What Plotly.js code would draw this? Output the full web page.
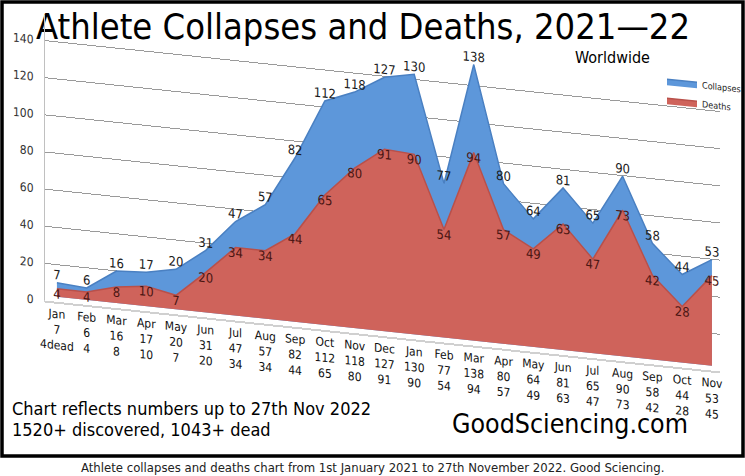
<!DOCTYPE html>
<html>
<head>
<meta charset="utf-8">
<script src="https://cdn.plot.ly/plotly-3.0.1.min.js"></script>
<style>
  html, body { margin: 0; padding: 0; background: #fff; }
  #wrap { position: relative; width: 745px; height: 476px; overflow: hidden; }
  #back { position: absolute; left: 0; top: 0; width: 745px; height: 476px; }
  #chart { position: absolute; left: 0; top: 0; width: 745px; height: 440px;
           transform: skewY(6deg); transform-origin: 40px 0; }
</style>
</head>
<body>
<div id="wrap">
  <div id="back"></div>
  <div id="chart"></div>
</div>
<script>
const months = ['Jan','Feb','Mar','Apr','May','Jun','Jul','Aug','Sep','Oct','Nov','Dec',
                'Jan','Feb','Mar','Apr','May','Jun','Jul','Aug','Sep','Oct','Nov']
const collapses = [7, 6, 16, 17, 20, 31, 47, 57, 82, 112, 118, 127,
                   130, 77, 138, 80, 64, 81, 65, 90, 58, 44, 53]
const deaths = [4, 4, 8, 10, 7, 20, 34, 34, 44, 65, 80, 91,
                90, 54, 94, 57, 49, 63, 47, 73, 42, 28, 45]
const yTicks = [0, 20, 40, 60, 80, 100, 120, 140]

const narrow = 'Liberation Sans Narrow, DejaVu Sans Condensed, Liberation Sans, sans-serif'

const xIdx = months.map((m, i) => i)
const tickText = months.map((m, i) =>
  `${m}<br>${collapses[i]}<br>${i === 0 ? deaths[i] + 'dead' : deaths[i]}`)

// background: frame and all the loose text
const backLayout = {
  width: 745, height: 476,
  margin: { l: 0, r: 0, t: 0, b: 0 },
  paper_bgcolor: '#fff', plot_bgcolor: '#fff',
  xaxis: { visible: false, range: [0, 745], fixedrange: true },
  yaxis: { visible: false, range: [476, 0], fixedrange: true },
  showlegend: false,
  shapes: [
    { type: 'rect', xref: 'paper', yref: 'paper', x0: 2 / 745, x1: 743 / 745,
      y0: 1 - 2 / 476, y1: 1 - 456 / 476, line: { color: '#000', width: 3.5 } }
  ],
  annotations: [
    { text: 'Athlete Collapses and Deaths, 2021\u201422', xref: 'paper', yref: 'paper',
      x: 34 / 745, y: 1 - 26 / 476, xanchor: 'left', yanchor: 'middle', showarrow: false,
      font: { family: narrow, size: 36, color: '#000' } },
    { text: 'Worldwide', xref: 'paper', yref: 'paper',
      x: 573 / 745, y: 1 - 57 / 476, xanchor: 'left', yanchor: 'middle', showarrow: false,
      font: { family: narrow, size: 16, color: '#000' } },
    { text: 'Chart reflects numbers up to 27th Nov 2022', xref: 'paper', yref: 'paper',
      x: 10 / 745, y: 1 - 408 / 476, xanchor: 'left', yanchor: 'middle', showarrow: false,
      font: { family: narrow, size: 18, color: '#000' } },
    { text: '1520+ discovered, 1043+ dead', xref: 'paper', yref: 'paper',
      x: 10 / 745, y: 1 - 429 / 476, xanchor: 'left', yanchor: 'middle', showarrow: false,
      font: { family: narrow, size: 18, color: '#000' } },
    { text: 'GoodSciencing.com', xref: 'paper', yref: 'paper',
      x: 450 / 745, y: 1 - 423 / 476, xanchor: 'left', yanchor: 'middle', showarrow: false,
      font: { family: narrow, size: 26.5, color: '#000' } },
    { text: 'Athlete collapses and deaths chart from 1st January 2021 to 27th November 2022. Good Sciencing.',
      xref: 'paper', yref: 'paper', x: 0.5, y: 1 - 467 / 476, xanchor: 'center', yanchor: 'middle',
      showarrow: false, font: { family: narrow, size: 13, color: '#222' } }
  ]
}

Plotly.newPlot('back', [], backLayout, { staticPlot: true, displayModeBar: false })

// the area chart itself, slanted with CSS to mimic the 3D look
const data = [
  {
    // empty carrier so the back-wall axis (y2) gets drawn
    x: [], y: [], yaxis: 'y2', type: 'scatter', mode: 'lines',
    showlegend: false, hoverinfo: 'skip'
  },
  {
    name: 'Collapses',
    x: xIdx, y: collapses,
    type: 'scatter', mode: 'lines+text',
    fill: 'tozeroy', fillcolor: '#5d97da',
    line: { color: '#4a80c2', width: 1.5 },
    text: collapses.map(String), textposition: 'top center',
    textfont: { family: narrow, size: 13, color: '#1a1a1a' },
    cliponaxis: false, hoverinfo: 'skip'
  },
  {
    name: 'Deaths',
    x: xIdx, y: deaths,
    type: 'scatter', mode: 'lines+text',
    fill: 'tozeroy', fillcolor: '#cf635b',
    line: { color: '#b9504a', width: 1.5 },
    text: deaths.map(String), textposition: 'bottom center',
    textfont: { family: narrow, size: 13, color: '#4a1512' },
    cliponaxis: false, hoverinfo: 'skip'
  }
]

// front plane (data) is a bit larger than the back wall, as in the 3D original
const layout = {
  width: 745, height: 440,
  margin: { l: 45, r: 25, t: 15, b: 140, autoexpand: false },
  paper_bgcolor: 'rgba(0,0,0,0)', plot_bgcolor: 'rgba(0,0,0,0)',
  xaxis: {
    range: [-0.4, 22.27], fixedrange: true,
    tickvals: xIdx, ticktext: tickText, tickangle: 0,
    showgrid: false, zeroline: false,
    showline: true, linecolor: '#d0d0d0', linewidth: 2,
    ticks: '', tickfont: { family: narrow, size: 12, color: '#111' }
  },
  yaxis: {
    range: [-2.5, 140], fixedrange: true,
    showgrid: false, zeroline: false, showticklabels: false, ticks: ''
  },
  yaxis2: {
    overlaying: 'y', side: 'left', anchor: 'x',
    range: [0, 153.5], fixedrange: true,
    tickvals: yTicks, showgrid: true, gridcolor: '#9a9a9a', gridwidth: 1,
    zeroline: false, showline: true, linecolor: '#c0c0c0',
    ticks: '', ticklabelstandoff: 8,
    tickfont: { family: narrow, size: 12, color: '#333' }
  },
  showlegend: true,
  legend: {
    xref: 'container', x: 662 / 745, y: 1.05, xanchor: 'left', yanchor: 'top',
    bgcolor: 'rgba(0,0,0,0)', font: { family: narrow, size: 9, color: '#222' },
    itemwidth: 30, tracegroupgap: 4
  }
}

Plotly.newPlot('chart', data, layout, { responsive: false, staticPlot: true, displayModeBar: false })
</script>
</body>
</html>
